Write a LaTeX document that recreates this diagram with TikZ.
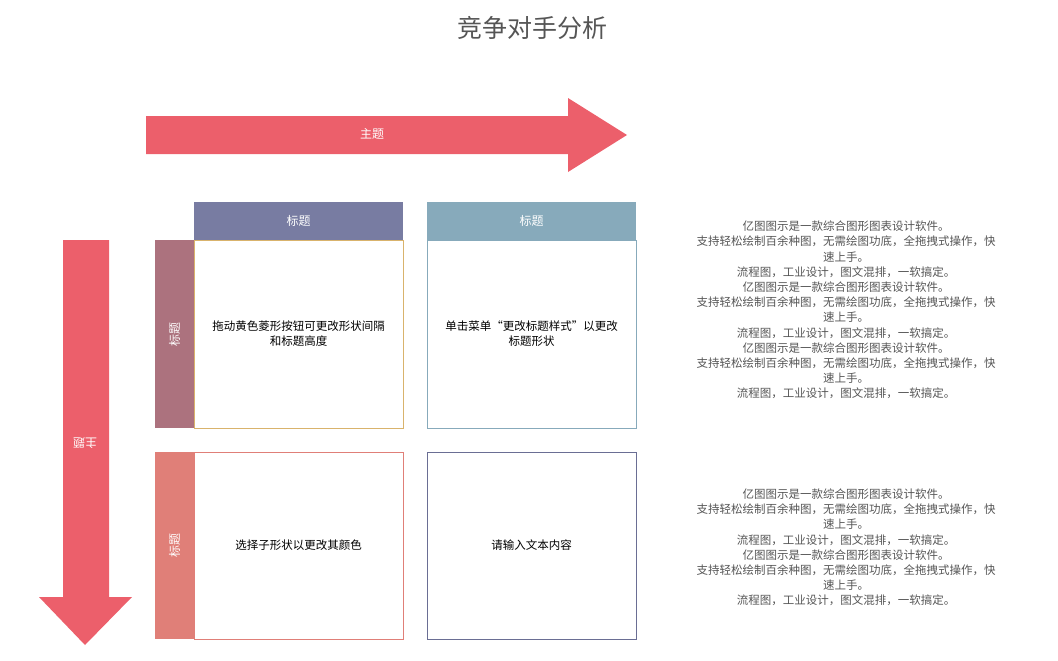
\documentclass[tikz,border=0pt]{standalone}
\usepackage{fontspec}
\setmainfont{Noto Sans CJK SC}
\definecolor{arr}{HTML}{EC5F6B}
\definecolor{hA}{HTML}{787CA2}
\definecolor{hB}{HTML}{87AABB}
\definecolor{rA}{HTML}{AC727E}
\definecolor{rB}{HTML}{E07F78}
\definecolor{bY}{HTML}{D9B36C}
\definecolor{bD}{HTML}{6A6E94}
\definecolor{tx}{HTML}{555555}
\begin{document}
\begin{tikzpicture}[x=1pt,y=-1pt,
  hdr/.style={fill=#1,draw=none,text=white,font=\fontsize{12}{14}\selectfont},
  cell/.style={draw=#1,line width=0.6pt,fill=white},
  info/.style={text=tx,align=center,font=\fontsize{11.5}{15.2}\selectfont}]
\useasboundingbox (0,0) rectangle (1058,661);
\node[text=tx,font=\fontsize{25}{28}\selectfont] (title) at (532,28) {竞争对手分析};
% horizontal arrow
\fill[arr] (146,116) -- (568,116) -- (568,98) -- (627,135) -- (568,172) -- (568,154) -- (146,154) -- cycle;
\node[text=white,font=\fontsize{12}{14}\selectfont] (ha) at (372,134) {主题};
% vertical arrow
\fill[arr] (63,240) -- (109,240) -- (109,597) -- (132,597) -- (85,645) -- (39,597) -- (63,597) -- cycle;
\node[text=white,rotate=180,font=\fontsize{12}{14}\selectfont] (va) at (85,443) {主题};
% headers
\fill[hA] (194,202) rectangle (403,240); \node[hdr=hA] (c1) at (298.5,221) {标题};
\fill[hB] (427,202) rectangle (636,240); \node[hdr=hB] (c2) at (531.5,221) {标题};
\fill[rA] (155,240) rectangle (194,428); \node[hdr=rA,rotate=90] (r1) at (174.5,334) {标题};
\fill[rB] (155,452) rectangle (194,639); \node[hdr=rB,rotate=90] (r2) at (174.5,545.5) {标题};
% cells
\draw[cell=bY] (194,240) rectangle (403,428);
\draw[cell=hB] (427,240) rectangle (636,428);
\draw[cell=rB] (194,452) rectangle (403,639);
\draw[cell=bD] (427,452) rectangle (636,639);
\node[align=center,font=\fontsize{11.5}{15}\selectfont] (t1) at (298.5,334) {拖动黄色菱形按钮可更改形状间隔\\和标题高度};
\node[align=center,font=\fontsize{11.5}{15}\selectfont] (t2) at (531.5,334) {单击菜单“更改标题样式”以更改\\标题形状};
\node[font=\fontsize{11.5}{14}\selectfont] (t3) at (298.5,545.5) {选择子形状以更改其颜色};
\node[font=\fontsize{11.5}{14}\selectfont] (t4) at (531.5,545.5) {请输入文本内容};
% side texts
\node[info] (i1) at (846,310) {亿图图示是一款综合图形图表设计软件。\\支持轻松绘制百余种图，无需绘图功底，全拖拽式操作，快\\速上手。\\流程图，工业设计，图文混排，一软搞定。\\亿图图示是一款综合图形图表设计软件。\\支持轻松绘制百余种图，无需绘图功底，全拖拽式操作，快\\速上手。\\流程图，工业设计，图文混排，一软搞定。\\亿图图示是一款综合图形图表设计软件。\\支持轻松绘制百余种图，无需绘图功底，全拖拽式操作，快\\速上手。\\流程图，工业设计，图文混排，一软搞定。};
\node[info] (i2) at (846,547.5) {亿图图示是一款综合图形图表设计软件。\\支持轻松绘制百余种图，无需绘图功底，全拖拽式操作，快\\速上手。\\流程图，工业设计，图文混排，一软搞定。\\亿图图示是一款综合图形图表设计软件。\\支持轻松绘制百余种图，无需绘图功底，全拖拽式操作，快\\速上手。\\流程图，工业设计，图文混排，一软搞定。};
\end{tikzpicture}
\end{document}
